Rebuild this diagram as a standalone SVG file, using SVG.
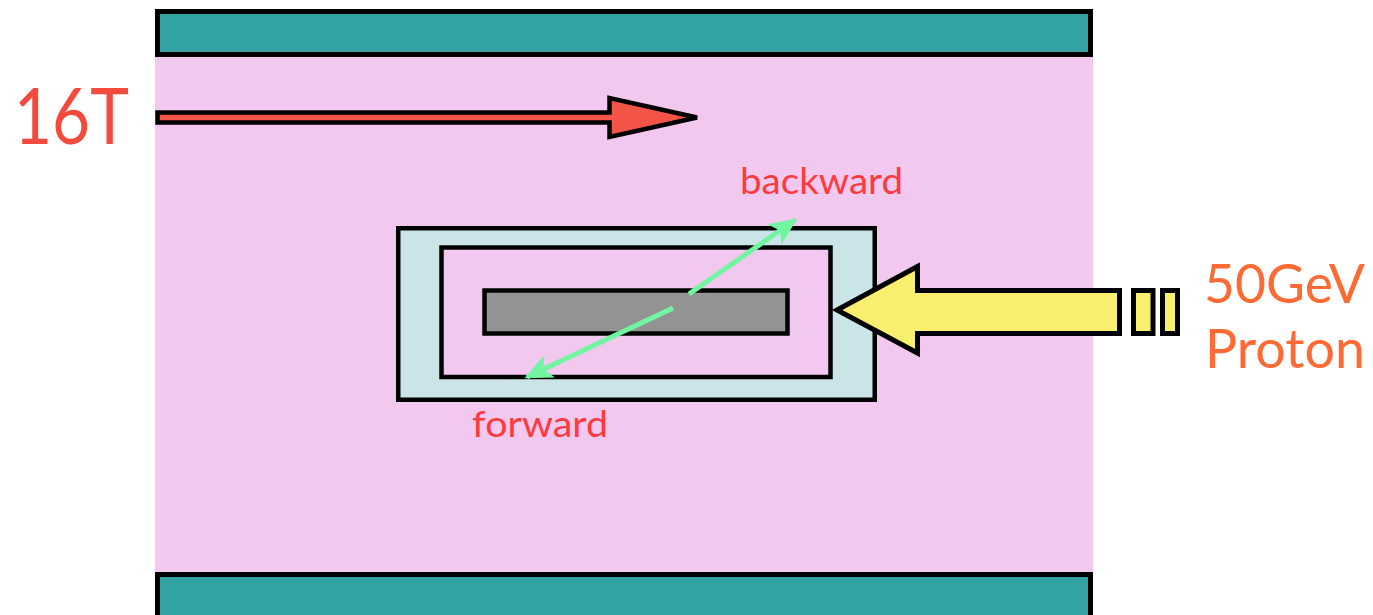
<svg xmlns="http://www.w3.org/2000/svg" width="1373" height="615" viewBox="0 0 1373 615">
  <defs>
    <style>
      .bar { fill: #32a3a3; stroke: #000; stroke-width: 5; }
      .box { stroke: #000; stroke-width: 4.5; }
      .lbl { font-family: Lato, "Liberation Sans", sans-serif; }
      .green { stroke: #72f5a0; stroke-width: 5; fill: none; marker-end: url(#gHead); }
    </style>
    <marker id="gHead" viewBox="0 0 10 10" refX="9" refY="5" markerWidth="5.6" markerHeight="5" markerUnits="strokeWidth" orient="auto" preserveAspectRatio="none">
      <path d="M0,0 L10,5 L0,10 L2.5,5 Z" fill="#72f5a0"/>
    </marker>
  </defs>
  <rect x="0" y="0" width="1373" height="615" fill="#ffffff"/>

  <g id="field">
    <rect x="155" y="50" width="938" height="530" fill="#f2c8ee"/>
  </g>
  <g id="top-bar">
    <rect class="bar" x="157.5" y="11.5" width="933" height="43"/>
  </g>
  <g id="bottom-bar">
    <rect class="bar" x="157.5" y="574.5" width="933" height="60"/>
  </g>

  <g id="outer-box">
    <rect class="box" x="398.25" y="228.25" width="476.5" height="171.5" fill="#cbe4e8"/>
  </g>
  <g id="inner-box">
    <rect class="box" x="441.5" y="247.5" width="389" height="129.5" fill="#f2c8ee" stroke-width="5"/>
  </g>
  <g id="target">
    <rect class="box" x="484.5" y="290.5" width="303" height="43" fill="#939393" stroke-width="5"/>
  </g>

  <g id="field-arrow">
    <polygon points="157.5,112.5 609.5,112.5 609.5,98 697,117.5 609.5,137 609.5,122.5 157.5,122.5" fill="#f25548" stroke="#000" stroke-width="4.5" stroke-linejoin="miter"/>
  </g>

  <g id="proton-beam">
    <polygon points="1119.5,290.5 917.5,290.5 917.5,266.5 837,310 917.5,353 917.5,333.5 1119.5,333.5" fill="#f9ef6e" stroke="#000" stroke-width="5" stroke-linejoin="miter" stroke-miterlimit="10"/>
    <rect x="1133.5" y="290.5" width="19.5" height="43" fill="#f9ef6e" stroke="#000" stroke-width="5"/>
    <rect x="1162.5" y="290.5" width="15" height="43" fill="#f9ef6e" stroke="#000" stroke-width="5"/>
  </g>

  <g id="connectors">
    <line class="green" x1="689" y1="294" x2="795" y2="220"/>
    <line class="green" x1="673" y1="308" x2="527" y2="377"/>
  </g>

  <g id="labels">
    <text class="lbl" x="14" y="144" font-size="78" fill="#f34a3e" textLength="115" lengthAdjust="spacingAndGlyphs">16T</text>
    <text class="lbl" x="1204" y="303" font-size="55" fill="#fe6a33" textLength="161" lengthAdjust="spacingAndGlyphs">50GeV</text>
    <text class="lbl" x="1205" y="368" font-size="55" fill="#fe6a33" textLength="160" lengthAdjust="spacingAndGlyphs">Proton</text>
    <text class="lbl" x="740" y="194" font-size="37" fill="#fe3a3f" textLength="163" lengthAdjust="spacingAndGlyphs">backward</text>
    <text class="lbl" x="472" y="437" font-size="37" fill="#fe3a3f" textLength="136" lengthAdjust="spacingAndGlyphs">forward</text>
  </g>
</svg>
